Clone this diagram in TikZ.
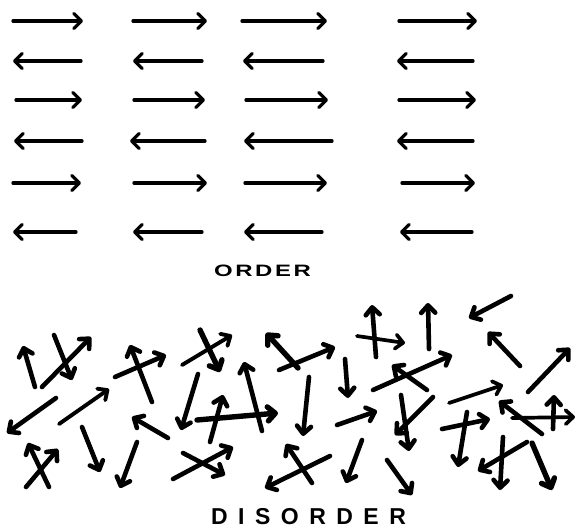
\documentclass[tikz,border=0pt]{standalone}
\usepackage{fontspec}
\setmainfont{Liberation Sans}
\usetikzlibrary{arrows.meta}
\tikzset{
  ordarrow/.style={line width=3.3pt, line cap=round, -{Straight Barb[length=7.5pt,width=15pt,line cap=round,line join=round]}},
  disarrow/.style={line width=4.6pt, line cap=round, -{Straight Barb[length=7.5pt,width=14pt,line cap=round,line join=round]}},
  thinarrow/.style={line width=3.7pt},
  thickarrow/.style={line width=5.4pt}
}
\begin{document}
\begin{tikzpicture}[x=1pt,y=-1pt]
\useasboundingbox (0,0) rectangle (576,531);
% ORDER: right-pointing rows
\foreach \y/\a/\b/\c/\d/\e/\f/\g/\h in {21/13/83/133/207/242/327/399/477, 100/16/82/134/205/246/328/399/476, 183/13/81/134/207/245/327/402/475}{
  \draw[ordarrow] (\a,\y) -- (\b,\y);
  \draw[ordarrow] (\c,\y) -- (\d,\y);
  \draw[ordarrow] (\e,\y) -- (\f,\y);
  \draw[ordarrow] (\g,\y) -- (\h,\y);
}
% ORDER: left-pointing rows
\foreach \y/\a/\b/\c/\d/\e/\f/\g/\h in {61/81/13/202/133/323/243/473/397, 141/82/14/205/130/332/244/473/397, 232/76/13/202/133/322/244/472/400}{
  \draw[ordarrow] (\a,\y) -- (\b,\y);
  \draw[ordarrow] (\c,\y) -- (\d,\y);
  \draw[ordarrow] (\e,\y) -- (\f,\y);
  \draw[ordarrow] (\g,\y) -- (\h,\y);
}
\node[font=\bfseries\fontsize{16.5}{17}\selectfont, inner sep=0pt] (order) at (262.5,270.5)
  {\scalebox{1.45}[1]{O\hspace{1.8pt}R\hspace{1.8pt}D\hspace{1.8pt}E\hspace{1.8pt}R}};
% DISORDER arrows
\foreach \tx/\ty/\hx/\hy in {
  35/387/23/346, 54/335/72/380, 42/387/91/337, 152/402/130/345, 115/377/166/355,
  56/398/7/433, 82/427/100/472, 168/438/132/417, 198/374/181/430,
  49/487/28/443, 26/487/58/449, 137/442/120/488, 173/479/233/447, 183/453/225/475,
  262/431/244/362, 210/442/223/395, 279/370/335/347, 309/377/303/436,
  345/359/348/398, 337/425/377/411, 362/440/346/483, 312/483/286/444, 330/456/265/488,
  376/357/372/305, 429/349/428/303, 511/296/469/318, 520/366/488/332, 528/392/570/348,
  373/390/452/355, 427/390/392/365, 401/395/409/451, 433/397/395/435,
  442/429/490/419, 467/412/458/467, 542/434/499/401, 553/429/554/395,
  527/442/478/471, 503/437/500/490, 387/460/412/495}{
  \draw[disarrow] (\tx,\ty) -- (\hx,\hy);
}
% thinner ones
\draw[disarrow, line width=3.9pt] (59,424) -- (109,389);
\draw[disarrow, line width=3.9pt] (182,365) -- (232,335);
\draw[disarrow, thinarrow] (357,336) -- (405,343);
\draw[disarrow, thinarrow] (449,403) -- (503,385);
\draw[disarrow, thinarrow] (512,418) -- (575,417);
% thicker ones
\draw[disarrow, thickarrow] (200,330) -- (220,372);
\draw[disarrow, thickarrow] (197,420) -- (278,413);
\draw[disarrow, thickarrow] (298,368) -- (266,333);
\draw[disarrow, thickarrow] (532,443) -- (552,490);
\node[font=\bfseries\fontsize{23}{24}\selectfont, inner sep=0pt] (disorder) at (308.5,517)
  {D\hspace{10.5pt}I\hspace{10.5pt}S\hspace{10.5pt}O\hspace{10.5pt}R\hspace{10.5pt}D\hspace{10.5pt}E\hspace{10.5pt}R};
\end{tikzpicture}
\end{document}
